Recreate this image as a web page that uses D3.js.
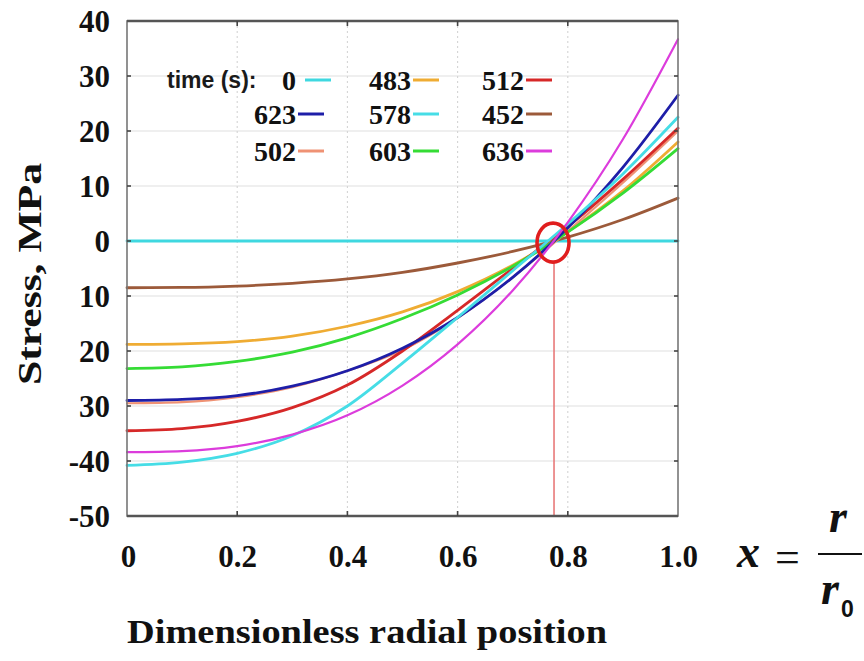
<!DOCTYPE html>
<html>
<head>
<meta charset="utf-8">
<script src="https://cdn.jsdelivr.net/npm/d3@7"></script>
<style>
  html, body { margin: 0; padding: 0; background: #fff; }
  svg { display: block; }
  .serif { font-family: "Liberation Serif", "Times New Roman", Times, serif; }
  .sans { font-family: "Liberation Sans", Arial, Helvetica, sans-serif; }
</style>
</head>
<body>
<svg id="chart" width="864" height="661"></svg>
<script>
// Dimensionless radial position x = r / r0
const positions = [0, 0.1, 0.2, 0.3, 0.4, 0.5, 0.6, 0.7, 0.8, 0.9, 1.0];

// Stress (MPa) across the radius, one profile per time (s)
const stress0   = [0, 0, 0, 0, 0, 0, 0, 0, 0, 0, 0];
const stress452 = [-8.5, -8.45, -8.2, -7.7, -6.9, -5.7, -4.0, -1.9, 0.7, 3.9, 7.8];
const stress483 = [-18.8, -18.7, -18.3, -17.3, -15.5, -12.9, -9.2, -4.4, 1.7, 9.1, 18.0];
const stress502 = [-29.5, -29.3, -28.4, -26.6, -23.6, -19.8, -14.0, -6.6, 1.8, 10.6, 20.0];
const stress512 = [-34.5, -34.1, -32.8, -30.3, -26.2, -20.0, -12.6, -5.0, 2.6, 11.2, 20.5];
const stress603 = [-23.2, -22.9, -21.9, -20.2, -17.6, -14.1, -9.8, -4.6, 1.6, 8.7, 16.8];
const stress623 = [-29.0, -28.8, -28.1, -26.4, -23.6, -19.5, -13.9, -6.6, 2.4, 13.4, 26.5];
const stress578 = [-40.8, -40.2, -38.6, -35.4, -30.0, -22.2, -13.9, -5.4, 3.1, 12.2, 22.5];
const stress636 = [-38.4, -38.2, -37.3, -35.2, -31.7, -26.3, -18.8, -9.0, 3.4, 18.5, 36.7];

// Legend order (three columns, three rows) and colours
const legendTimes  = ["0", "483", "512", "623", "578", "452", "502", "603", "636"];
const legendColors = ["#3fd8e0", "#efac33", "#d62828", "#1e1ea8", "#46dde6", "#9c5a3a", "#ef9274", "#35dc35", "#dc3cdc"];

// Axis ticks and their printed labels
const xTicks = [0, 0.2, 0.4, 0.6, 0.8, 1.0];
const xTickLabels = ["0", "0.2", "0.4", "0.6", "0.8", "1.0"];
const yTicks = [40, 30, 20, 10, 0, -10, -20, -30, -40, -50];
const yTickLabels = ["40", "30", "20", "10", "0", "10", "20", "30", "-40", "-50"];

// Point where all profiles cross zero stress
const neutralX = 0.775;
const neutralY = -0.3;

const seriesByTime = {
  "0": stress0, "452": stress452, "483": stress483, "502": stress502, "512": stress512,
  "603": stress603, "623": stress623, "578": stress578, "636": stress636
};
const colorByTime = {};
legendTimes.forEach((t, i) => colorByTime[t] = legendColors[i]);
// drawing order (last on top)
const drawOrder = ["0", "452", "483", "502", "512", "603", "623", "578", "636"];

const svg = d3.select("#chart");
const plot = { left: 127, right: 678, top: 21, bottom: 516 };

const x = d3.scaleLinear().domain([0, 1]).range([plot.left, plot.right]);
const y = d3.scaleLinear().domain([-50, 40]).range([plot.bottom, plot.top]);

// horizontal grid
svg.append("g")
  .selectAll("line")
  .data(yTicks.filter(v => v > -50 && v < 40))
  .join("line")
  .attr("x1", plot.left).attr("x2", plot.right)
  .attr("y1", d => y(d)).attr("y2", d => y(d))
  .attr("stroke", "#e0e0e0").attr("stroke-width", 1.2);

// vertical dotted grid
svg.append("g")
  .selectAll("line")
  .data(xTicks.filter(v => v > 0 && v < 1))
  .join("line")
  .attr("x1", d => x(d)).attr("x2", d => x(d))
  .attr("y1", plot.top).attr("y2", plot.bottom)
  .attr("stroke", "#d4d4d4").attr("stroke-width", 1.1)
  .attr("stroke-dasharray", "2,3");

// profiles
const line = d3.line()
  .x((d, i) => x(positions[i]))
  .y(d => y(d))
  .curve(d3.curveMonotoneX);

svg.append("g")
  .selectAll("path")
  .data(drawOrder)
  .join("path")
  .attr("d", t => line(seriesByTime[t]))
  .attr("fill", "none")
  .attr("stroke", t => colorByTime[t])
  .attr("stroke-width", t => t === "636" ? 2.2 : (t === "502" ? 2.2 : 2.8))
  .attr("stroke-linecap", "round");

// marker at the neutral point
const ellRx = 16, ellRy = 19.5;
svg.append("line")
  .attr("x1", x(neutralX)).attr("x2", x(neutralX))
  .attr("y1", y(neutralY) + ellRy).attr("y2", plot.bottom)
  .attr("stroke", "#e87a7a").attr("stroke-width", 1.6);
svg.append("ellipse")
  .attr("cx", x(neutralX) - 1).attr("cy", y(neutralY))
  .attr("rx", ellRx).attr("ry", ellRy)
  .attr("fill", "none")
  .attr("stroke", "#e01e1e").attr("stroke-width", 3.6);

// frame
svg.append("rect")
  .attr("x", plot.left).attr("y", plot.top)
  .attr("width", plot.right - plot.left).attr("height", plot.bottom - plot.top)
  .attr("fill", "none").attr("stroke", "#777").attr("stroke-width", 1.6);
svg.append("line")
  .attr("x1", plot.left).attr("x2", plot.right)
  .attr("y1", plot.top).attr("y2", plot.top)
  .attr("stroke", "#555").attr("stroke-width", 2.6);
svg.append("line")
  .attr("x1", plot.left).attr("x2", plot.right)
  .attr("y1", plot.bottom).attr("y2", plot.bottom)
  .attr("stroke", "#555").attr("stroke-width", 2.6);

// inward ticks on all four sides
const tickLen = 4;
const yInner = yTicks.filter(v => v > -50 && v < 40);
const xInner = xTicks.filter(v => v > 0 && v < 1);
const tickG = svg.append("g").attr("stroke", "#444").attr("stroke-width", 1.6);
tickG.selectAll(".yl").data(yInner).join("line")
  .attr("x1", plot.left).attr("x2", plot.left + tickLen)
  .attr("y1", d => y(d)).attr("y2", d => y(d));
tickG.selectAll(".yr").data(yInner).join("line")
  .attr("x1", plot.right - tickLen).attr("x2", plot.right)
  .attr("y1", d => y(d)).attr("y2", d => y(d));
tickG.selectAll(".xb").data(xInner).join("line")
  .attr("x1", d => x(d)).attr("x2", d => x(d))
  .attr("y1", plot.bottom - tickLen - 1).attr("y2", plot.bottom);
tickG.selectAll(".xt").data(xInner).join("line")
  .attr("x1", d => x(d)).attr("x2", d => x(d))
  .attr("y1", plot.top).attr("y2", plot.top + tickLen + 1);

// y tick labels
const yAxis = d3.axisLeft(y)
  .tickValues(yTicks)
  .tickFormat((d, i) => yTickLabels[i])
  .tickSize(0)
  .tickPadding(0);
const yAxisG = svg.append("g")
  .attr("transform", `translate(${plot.left - 17},0)`)
  .call(yAxis)
  .attr("font-family", null).attr("font-size", null);
yAxisG.select(".domain").remove();
yAxisG.selectAll("text")
  .attr("class", "serif")
  .style("font-weight", "bold")
  .style("font-size", "31px")
  .attr("fill", "#111")
  .attr("dy", "0.34em");

// x tick labels
const xAxis = d3.axisBottom(x)
  .tickValues(xTicks)
  .tickFormat((d, i) => xTickLabels[i])
  .tickSize(0)
  .tickPadding(0);
const xAxisG = svg.append("g")
  .attr("transform", `translate(0,${plot.bottom + 51})`)
  .call(xAxis)
  .attr("font-family", null).attr("font-size", null);
xAxisG.select(".domain").remove();
xAxisG.selectAll("text")
  .attr("class", "serif")
  .style("font-weight", "bold")
  .style("font-size", "31px")
  .attr("fill", "#111")
  .attr("dy", 0)
  .attr("x", (d, i) => i === 0 ? 1 : 0);

// axis titles
svg.append("text")
  .attr("class", "serif")
  .attr("x", 367).attr("y", 643)
  .attr("text-anchor", "middle")
  .style("font-weight", "bold").style("font-size", "34px")
  .attr("fill", "#111")
  .attr("textLength", 480).attr("lengthAdjust", "spacingAndGlyphs")
  .text("Dimensionless radial position");

svg.append("text")
  .attr("class", "serif")
  .attr("transform", "translate(41,274) rotate(-90)")
  .attr("text-anchor", "middle")
  .style("font-weight", "bold").style("font-size", "34px")
  .attr("fill", "#111")
  .attr("textLength", 222).attr("lengthAdjust", "spacingAndGlyphs")
  .text("Stress, MPa");

// x = r / r0
const fx = svg.append("g").attr("fill", "#111");
fx.append("text")
  .attr("class", "serif")
  .attr("x", 737).attr("y", 567)
  .style("font-weight", "bold").style("font-style", "italic").style("font-size", "46px")
  .text("x");
fx.append("text")
  .attr("class", "serif")
  .attr("x", 775).attr("y", 572)
  .style("font-size", "44px")
  .text("=");
fx.append("line")
  .attr("x1", 818).attr("x2", 862).attr("y1", 554).attr("y2", 554)
  .attr("stroke", "#111").attr("stroke-width", 2);
fx.append("text")
  .attr("class", "serif")
  .attr("x", 829).attr("y", 532)
  .style("font-weight", "bold").style("font-style", "italic").style("font-size", "46px")
  .text("r");
fx.append("text")
  .attr("class", "serif")
  .attr("x", 821).attr("y", 604)
  .style("font-weight", "bold").style("font-style", "italic").style("font-size", "46px")
  .text("r");
fx.append("text")
  .attr("class", "sans")
  .attr("x", 841).attr("y", 617)
  .style("font-weight", "bold").style("font-size", "23px")
  .text("0");

// legend
const legendCols = [296, 411, 524];
const legendRows = [80, 114, 151];
const legend = svg.append("g");
legend.append("text")
  .attr("class", "sans")
  .attr("x", 167).attr("y", legendRows[0] + 8)
  .style("font-size", "23px").style("font-weight", "bold")
  .attr("fill", "#1a1a1a")
  .text("time (s):");
legendTimes.forEach((t, i) => {
  const cx = legendCols[i % 3];
  const cy = legendRows[Math.floor(i / 3)];
  const gap = (i === 0) ? 9 : 2;
  legend.append("text")
    .attr("class", "serif")
    .attr("x", cx).attr("y", cy + 10)
    .attr("text-anchor", "end")
    .style("font-weight", "bold").style("font-size", "28px")
    .attr("fill", "#111")
    .text(t);
  legend.append("line")
    .attr("x1", cx + gap).attr("x2", cx + gap + 26)
    .attr("y1", cy).attr("y2", cy)
    .attr("stroke", legendColors[i]).attr("stroke-width", 3);
});
</script>
</body>
</html>
